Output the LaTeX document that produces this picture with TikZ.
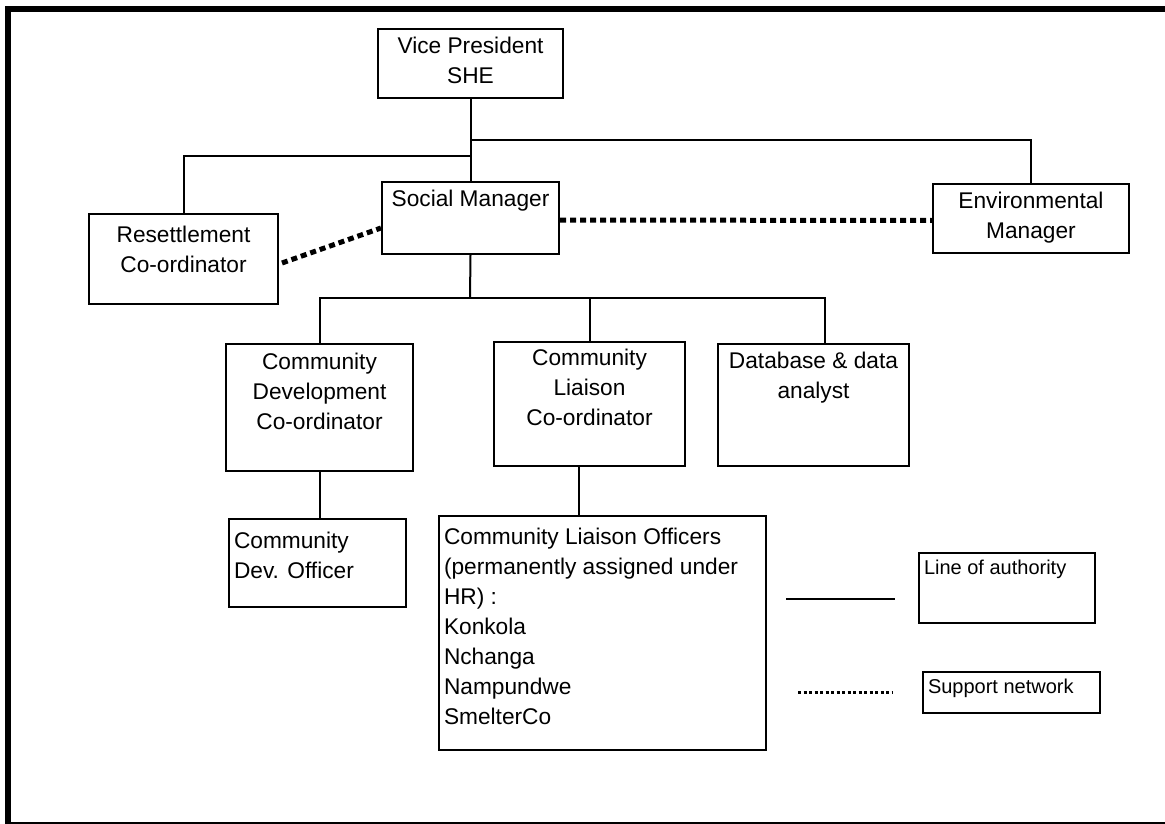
\documentclass[tikz,border=0pt]{standalone}
\usepackage{fontspec}
\setmainfont{Liberation Sans}
\usetikzlibrary{calc}
% box contents: width, height, first-baseline depth, text
\newcommand\midtext[4]{\parbox[c][#2pt][t]{#1pt}{\centering\rule{0pt}{#3pt}#4}}
\newcommand\lefttext[4]{\parbox[c][#2pt][t]{#1pt}{\raggedright\leftskip=5pt\rule{0pt}{#3pt}#4}}
\begin{document}
\begin{tikzpicture}[x=1pt,y=-1pt,
  orgbox/.style={draw, line width=2pt, inner sep=0pt, anchor=north west,
    font=\fontsize{22.7}{30}\selectfont},
  legbox/.style={orgbox, font=\fontsize{20}{24}\selectfont},
  link/.style={line width=2pt},
  support/.style={line width=5pt, dash pattern=on 6pt off 4pt},
  finedots/.style={line width=3pt, dash pattern=on 3pt off 2.5pt},
  frameline/.style={line width=6pt},
]
\useasboundingbox (0,0) rectangle (1165,824);

% outer frame (open on the right)
\draw[frameline] (5,9.5) -- (1165,9.5);
\draw[frameline] (8,7) -- (8,823);
\draw[line width=1.5pt] (5,822.8) -- (1165,822.8);

% boxes
\node[orgbox] (vp)  at (377,28)  {\midtext{185}{69}{25}{Vice President\\SHE}};
\node[orgbox] (sm)  at (381,181) {\midtext{177}{72}{24}{Social Manager}};
\node[orgbox] (env) at (932,183) {\midtext{196}{69}{24}{Environmental\\Manager}};
\node[orgbox] (res) at (88,213)  {\midtext{189}{90}{28}{Resettlement\\Co-ordinator}};
\node[orgbox] (cdc) at (225,343) {\midtext{187}{127}{25}{Community\\Development\\Co-ordinator}};
\node[orgbox] (clc) at (493,341) {\midtext{191}{124}{23}{Community\\Liaison\\Co-ordinator}};
\node[orgbox] (db)  at (717,343) {\midtext{191}{122}{24}{Database \& data\\analyst}};
\node[orgbox] (cdo) at (228,518) {\lefttext{177}{88}{29}{Community\\Dev. Officer}};
\node[orgbox] (clo) at (438,515) {\lefttext{327}{234}{28}{Community Liaison Officers\\(permanently assigned under\\HR) :\\Konkola\\Nchanga\\Nampundwe\\SmelterCo}};
\node[legbox] (lauth) at (918,552) {\lefttext{176}{70}{21}{Line of authority}};
\node[legbox] (lsupp) at (922,671) {\lefttext{177}{41}{21}{Support network}};

% lines of authority
\coordinate (vptap1) at (470,140);
\coordinate (vptap2) at (470,156);
\coordinate (smtap)  at (470,298);
\coordinate (dbtap)  at (825,298);
\coordinate (clctap) at (579,465);
\draw[link] (vp.south) -- (sm.north);
\draw[link] (vptap1) -| (env.north);
\draw[link] (vptap2) -| (res.north);
\draw[link] (sm.south) -- (smtap);
\draw[link] (smtap) -| (cdc.north);
\draw[link] (smtap) -| (clc.north);
\draw[link] (smtap) -- (dbtap) -- (dbtap |- db.north);
\draw[link] (cdc.south) -- (cdc.south |- cdo.north);
\draw[link] (clctap) -- (clctap |- clo.north);

% support network
\draw[support] ($(res.east)+(3,4)$) -- ($(sm.west)+(0,10)$);
\draw[support] ($(sm.east)+(0,2)$) -- ($(env.west)+(0,2)$);

% legend
\coordinate (ls1) at (786,599);
\coordinate (ls2) at (895,599);
\coordinate (ld1) at (798,692);
\coordinate (ld2) at (893,692);
\draw[link] (ls1) -- (ls2);
\draw[finedots] (ld1) -- (ld2);
\end{tikzpicture}
\end{document}
